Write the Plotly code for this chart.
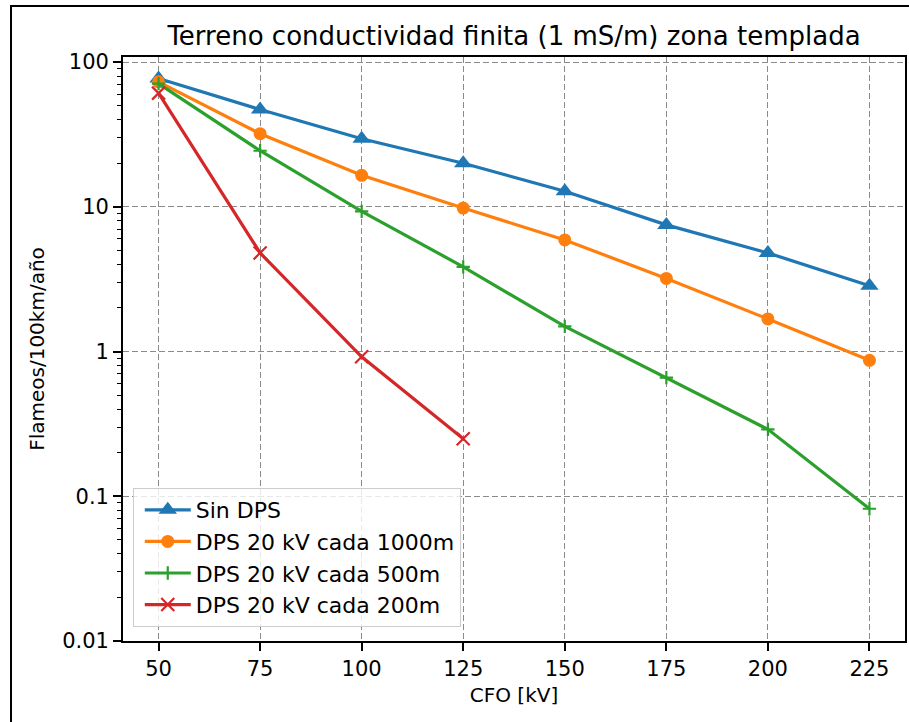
import plotly.graph_objects as go

# datos
cfo_kv = [50, 75, 100, 125, 150, 175, 200, 225]
sin_dps = [77, 47, 29.5, 20, 12.8, 7.5, 4.8, 2.85]
dps_1000 = [73, 32, 16.5, 9.8, 5.9, 3.2, 1.68, 0.87]
dps_500 = [71, 24.4, 9.3, 3.85, 1.49, 0.66, 0.29, 0.082]
cfo_200 = [50, 75, 100, 125]
dps_200 = [61, 4.8, 0.92, 0.25]

y_tickvals = [0.01, 0.1, 1, 10, 100]
y_ticktext = ["0.01", "0.1", "1", "10", "100"]
x_tickvals = [50, 75, 100, 125, 150, 175, 200, 225]

FONT = "DejaVu Sans"
GRID = "#8a8a8a"

series = [
    ("Sin DPS", cfo_kv, sin_dps, "#1f77b4", dict(symbol="triangle-up", size=16)),
    ("DPS 20 kV cada 1000m", cfo_kv, dps_1000, "#ff7f0e", dict(symbol="circle", size=13)),
    ("DPS 20 kV cada 500m", cfo_kv, dps_500, "#2ca02c",
     dict(symbol="cross-thin-open", size=9.5, line=dict(width=2.2, color="#2ca02c"))),
    ("DPS 20 kV cada 200m", cfo_200, dps_200, "#d62728",
     dict(symbol="x-thin-open", size=13, line=dict(width=2.2, color="#d62728"))),
]

fig = go.Figure()
for i, (name, xs, ys, color, marker) in enumerate(series):
    fig.add_trace(go.Scatter(
        x=xs, y=ys,
        mode="lines+markers",
        name=name,
        legendgroup=f"g{i}",
        line=dict(color=color, width=3.2),
        marker=dict(color=color, **marker),
    ))

minor_vals = [m * 10 ** e for e in range(-2, 2) for m in range(2, 10)] + [200]

fig.update_layout(
    width=909,
    height=722,
    margin=dict(l=123, r=4, t=57, b=81),
    paper_bgcolor="white",
    plot_bgcolor="white",
    font=dict(family=FONT, size=21, color="black"),
    title=dict(
        text="Terreno conductividad finita (1 mS/m) zona templada",
        font=dict(family=FONT, size=26, color="black"),
        x=(123 + 905) / 2 / 909, xanchor="center",
        y=1 - 36 / 722, yanchor="middle", yref="container",
    ),
    showlegend=True,
    legend=dict(
        x=0.0125, y=0.024, xanchor="left", yanchor="bottom",
        bgcolor="rgba(255,255,255,0.8)",
        bordercolor="#cccccc", borderwidth=1,
        font=dict(family=FONT, size=22, color="black"),
        tracegroupgap=0,
        itemwidth=46,
        indentation=6,
    ),
    xaxis=dict(
        range=[41.25, 233.75],
        tickmode="array", tickvals=x_tickvals,
        ticks="outside", ticklen=8, tickwidth=1.7, tickcolor="black",
        showline=True, linecolor="black", linewidth=1.7, mirror=True,
        showgrid=True, gridcolor=GRID, gridwidth=1.4, griddash="6px,3px",
        zeroline=False,
        title=dict(text="CFO [kV]", standoff=8, font=dict(size=20)),
        automargin=False,
    ),
    yaxis=dict(
        type="log",
        range=[-2, 2.035],
        tickmode="array", tickvals=y_tickvals, ticktext=y_ticktext,
        ticks="outside", ticklen=8, tickwidth=1.7, tickcolor="black",
        minor=dict(tickmode="array", tickvals=minor_vals, ticks="outside",
                   ticklen=4.5, tickwidth=1.3, tickcolor="black", showgrid=False),
        showline=True, linecolor="black", linewidth=1.7, mirror=True,
        showgrid=True, gridcolor=GRID, gridwidth=1.4, griddash="6px,3px",
        zeroline=False,
        title=dict(text="Flameos/100km/año", standoff=12, font=dict(size=20)),
        automargin=False,
    ),
    shapes=[dict(
        type="rect", xref="paper", yref="paper",
        x0=(11 - 123) / 782, x1=1.3, y0=-0.4, y1=(642 - 7) / 584,
        line=dict(color="black", width=2), fillcolor="rgba(0,0,0,0)",
        layer="above",
    )],
)

fig.write_html(
    "out.html",
    config={"displayModeBar": False},
    post_script="document.body.style.margin='0';",
)
